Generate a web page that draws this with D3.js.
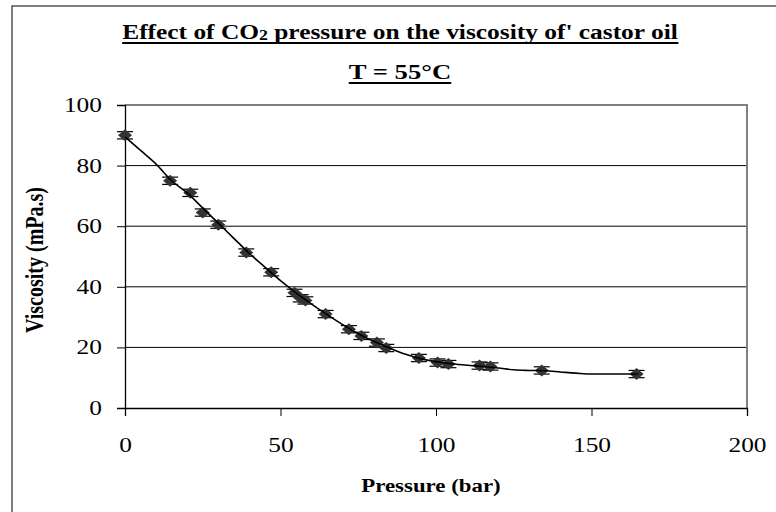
<!DOCTYPE html>
<html>
    <head>
        <script src="https://d3js.org/d3.v7.min.js"></script>
        <style>
            body { margin:0; background:#fff; }
            svg { width:776px; height:512px; display:block; }
            .tick text { font-family:'Liberation Serif', 'Times New Roman', serif; font-size:20px; fill:#000; }
            .title, .axis-label { font-family:'Liberation Serif', 'Times New Roman', serif; font-weight:bold; fill:#000; }
        </style>
    </head>
    <body>
        <svg id="chart"></svg>
    </body>
    <script>
        // measured points (pressure in bar, viscosity in mPa.s)
        const pressure  = [0, 14.5, 21, 25, 30, 39, 47, 54.5, 56.5, 58, 64.5, 72, 76, 81, 84, 94.5, 100.5, 104, 114, 117.5, 134, 164.5];
        const viscosity = [90, 75, 71, 64.5, 60.5, 51.3, 44.8, 38, 36.2, 35.5, 31, 26, 23.8, 21.6, 19.8, 16.5, 15, 14.5, 14, 13.7, 12.4, 11.2];
        const errBar    = [1.2, 1.2, 1.2, 1.2, 1.2, 1.2, 1.2, 1.2, 1.2, 1.2, 1.2, 1.2, 1.2, 1.2, 1.2, 1.2, 1.2, 1.2, 1.2, 1.2, 1.2, 1.2];

        // fitted curve
        const curveP = [0, 5, 10, 15, 20, 25, 30, 35, 40, 45, 50, 55, 60, 65, 70, 75, 80, 85, 90, 95, 100, 105, 110, 115, 120, 125, 130, 135, 140, 145, 150, 155, 160, 165];
        const curveV = [89.5, 85, 80.5, 75, 71, 66, 61, 56, 51, 46.5, 42, 38, 34.3, 30.8, 27.5, 24.5, 22, 19.8, 17.8, 16.3, 15.3, 14.6, 14.1, 13.7, 13.2, 12.6, 12.4, 12.3, 11.9, 11.5, 11.2, 11.2, 11.2, 11.2];

        const xTicks = [0, 50, 100, 150, 200];
        const yTicks = [0, 20, 40, 60, 80, 100];

        const svg = d3.select('#chart');
        const margin = { left:125, top:105 };
        const innerWidth = 622;
        const innerHeight = 303;
        const sx = 1.27; // the original picture is stretched sideways

        // widen a text by sx without a transform
        function stretch(sel) {
            sel.each(function() {
                const w = this.getComputedTextLength();
                d3.select(this).attr('textLength', w * sx).attr('lengthAdjust', 'spacingAndGlyphs');
            });
        }

        // outer chart border (right and bottom edges fall outside the picture)
        svg.append('rect')
            .attr('x', 12).attr('y', 6)
            .attr('width', 770).attr('height', 520)
            .attr('fill', 'none').attr('stroke', '#000').attr('stroke-width', 1);

        const xScale = d3.scaleLinear().domain([0, 200]).range([0, innerWidth]);
        const yScale = d3.scaleLinear().domain([0, 100]).range([innerHeight, 0]);

        const g = svg.append('g').attr('transform', `translate(${margin.left},${margin.top})`);

        // gridlines
        g.selectAll('.grid').data(yTicks.filter(d => d > 0 && d < 100)).enter()
            .append('line')
            .attr('x1', 0).attr('x2', innerWidth)
            .attr('y1', d => yScale(d)).attr('y2', d => yScale(d))
            .attr('stroke', '#000').attr('stroke-width', 1);

        // top / right border of the plot area (grey)
        g.append('path')
            .attr('d', `M0,${yScale(100)}H${innerWidth}V${innerHeight}`)
            .attr('fill', 'none').attr('stroke', '#808080').attr('stroke-width', 2);

        // axes
        const yAxis = d3.axisLeft(yScale).tickValues(yTicks).tickSize(8).tickPadding(15);
        g.append('g').call(yAxis)
            .call(s => s.select('.domain').attr('stroke', '#000').attr('stroke-width', 1.3))
            .call(s => stretch(s.selectAll('.tick text')));

        const xAxis = d3.axisBottom(xScale).tickValues(xTicks).tickSize(8).tickPadding(22);
        g.append('g').attr('transform', `translate(0,${innerHeight})`).call(xAxis)
            .call(s => s.select('.domain').attr('stroke', '#000').attr('stroke-width', 1.3))
            .call(s => stretch(s.selectAll('.tick text')));

        g.selectAll('.tick line').attr('stroke', '#000');

        const pts = pressure.map((p, i) => ({ p: p, v: viscosity[i], e: errBar[i] }));

        // error bars
        const eb = g.append('g');
        pts.forEach(d => {
            eb.append('line')
                .attr('x1', xScale(d.p)).attr('x2', xScale(d.p))
                .attr('y1', yScale(d.v - d.e)).attr('y2', yScale(d.v + d.e))
                .attr('stroke', '#000');
            [d.v - d.e, d.v + d.e].forEach(c => {
                eb.append('line')
                    .attr('x1', xScale(d.p) - 8).attr('x2', xScale(d.p) + 8)
                    .attr('y1', yScale(c)).attr('y2', yScale(c))
                    .attr('stroke', '#000').attr('stroke-width', 1.2);
            });
        });

        // markers
        g.selectAll('.pt').data(pts).enter()
            .append('path')
            .attr('transform', d => `translate(${xScale(d.p)},${yScale(d.v)})`)
            .attr('d', 'M0,-6L7,0L0,6L-7,0Z')
            .attr('fill', '#333');

        // fitted curve
        const curve = curveP.map((p, i) => [p, curveV[i]]);
        g.append('path')
            .datum(curve)
            .attr('fill', 'none')
            .attr('stroke', '#000')
            .attr('stroke-width', 1.6)
            .attr('d', d3.line().x(d => xScale(d[0])).y(d => yScale(d[1])).curve(d3.curveMonotoneX));

        // titles with a drawn underline
        function underline(t) {
            const b = t.node().getBBox();
            const y = +t.attr('y') + 4;
            svg.append('line')
                .attr('x1', b.x).attr('x2', b.x + b.width)
                .attr('y1', y).attr('y2', y)
                .attr('stroke', '#000').attr('stroke-width', 1.8);
        }

        const t1 = svg.append('text').attr('class', 'title')
            .attr('x', 400).attr('y', 39)
            .attr('text-anchor', 'middle')
            .style('font-size', '20px');
        t1.append('tspan').text('Effect of CO');
        t1.append('tspan').text('2').style('font-size', '14px').attr('dy', 1);
        t1.append('tspan').text(" pressure on the viscosity of' castor oil").attr('dy', -1);
        stretch(t1);
        underline(t1);

        const t2 = svg.append('text').attr('class', 'title')
            .attr('x', 400).attr('y', 79)
            .attr('text-anchor', 'middle')
            .style('font-size', '21px')
            .text('T = 55°C');
        stretch(t2);
        underline(t2);

        svg.append('text').attr('class', 'axis-label')
            .attr('x', 431).attr('y', 492)
            .attr('text-anchor', 'middle')
            .style('font-size', '18px')
            .text('Pressure (bar)')
            .call(stretch);

        svg.append('text').attr('class', 'axis-label')
            .attr('transform', `translate(43,260) rotate(-90) scale(1,${sx})`)
            .attr('text-anchor', 'middle')
            .style('font-size', '20px')
            .text('Viscosity (mPa.s)');
    </script>
</html>
